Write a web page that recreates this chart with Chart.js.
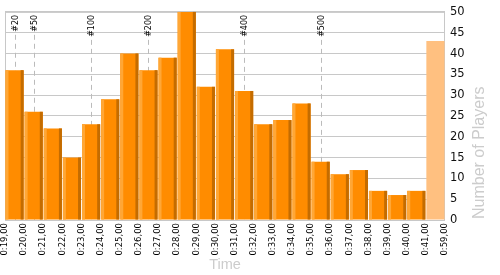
<!DOCTYPE html>
<html>
<head>
<meta charset="utf-8">
<script src="https://cdn.jsdelivr.net/npm/chart.js@4/dist/chart.umd.min.js"></script>
<style>
  body { margin: 0; background: #fff; }
</style>
</head>
<body>
<canvas id="chart" width="500" height="275"></canvas>
<script>
// time slot boundaries (bars sit between two labels)
const timeLabels = ['0:19,00', '0:20,00', '0:21,00', '0:22,00', '0:23,00', '0:24,00', '0:25,00',
  '0:26,00', '0:27,00', '0:28,00', '0:29,00', '0:30,00', '0:31,00', '0:32,00', '0:33,00',
  '0:34,00', '0:35,00', '0:36,00', '0:37,00', '0:38,00', '0:39,00', '0:40,00', '0:41,00', '0:59,00'];
// players per slot, last one is the 0:41-0:59 catch-all
const players = [36, 26, 22, 15, 23, 29, 40, 36, 39, 50, 32, 41, 31, 23, 24, 28, 14, 11, 12, 7, 6, 7, 43];
// rank markers and the slot they fall in
const markerLabels = ['#20', '#50', '#100', '#200', '#400', '#500'];
const markerSlots = [0, 1, 4, 7, 12, 16];
const yTicks = [0, 5, 10, 15, 20, 25, 30, 35, 40, 45, 50];

const ORANGE = '#ff8c00';
const LIGHT = '#ffa736';
const DARK = '#c46c00';
const REST = '#ffc080';

const lastIdx = players.length - 1;

const decor = {
  id: 'decor',
  beforeDatasetsDraw(chart) {
    const { ctx, chartArea: a, scales: { x } } = chart;
    ctx.save();
    ctx.strokeStyle = '#c8c8c8';
    ctx.lineWidth = 1;
    ctx.strokeRect(a.left + 0.5, a.top + 0.5, a.right - a.left - 1, a.bottom - a.top);

    ctx.font = '8px "DejaVu Sans"';
    markerLabels.forEach((t, i) => {
      const px = Math.round(x.getPixelForValue(markerSlots[i] + 0.5)) + 0.5;
      const w = ctx.measureText(t).width;
      ctx.strokeStyle = '#bbbbbb';
      ctx.setLineDash([5, 4]);
      ctx.beginPath();
      ctx.moveTo(px, a.top + w + 6);
      ctx.lineTo(px, a.bottom);
      ctx.stroke();
      ctx.setLineDash([]);
      ctx.save();
      ctx.translate(px, a.top + 3);
      ctx.rotate(-Math.PI / 2);
      ctx.textAlign = 'right';
      ctx.textBaseline = 'middle';
      ctx.fillStyle = '#000';
      ctx.fillText(t, 0, 0);
      ctx.restore();
    });
    ctx.restore();
  },
  afterDatasetsDraw(chart) {
    // fake 3d edges on the orange bars
    const { ctx } = chart;
    const bars = chart.getDatasetMeta(0).data;
    ctx.save();
    bars.forEach((bar, i) => {
      if (i === lastIdx) return;
      const { x, y, base, width } = bar.getProps(['x', 'y', 'base', 'width'], true);
      const left = x - width / 2;
      ctx.fillStyle = LIGHT;
      ctx.fillRect(left, y, 3, base - y);
      ctx.fillStyle = DARK;
      ctx.fillRect(left + width - 3, y, 3, base - y);
    });
    ctx.restore();
  },
  afterDraw(chart) {
    const { ctx } = chart;
    ctx.save();
    ctx.translate(480, 219);
    ctx.rotate(-Math.PI / 2);
    ctx.font = '16px "Liberation Sans"';
    ctx.fillStyle = '#cccccc';
    ctx.textAlign = 'left';
    ctx.textBaseline = 'middle';
    ctx.fillText('Number of Players', 0, 0);
    ctx.restore();
  }
};

new Chart(document.getElementById('chart'), {
  type: 'bar',
  data: {
    datasets: [{
      data: players.map((v, i) => ({ x: i + 0.5, y: v })),
      backgroundColor: ctx => ctx.dataIndex === lastIdx ? REST : ORANGE,
      borderWidth: 0,
      categoryPercentage: 1,
      barPercentage: 0.95
    }]
  },
  options: {
    responsive: false,
    animation: false,
    layout: { padding: { left: 5, top: 10, right: 0, bottom: 0 } },
    plugins: {
      legend: { display: false },
      tooltip: { enabled: false }
    },
    scales: {
      x: {
        type: 'linear',
        min: 0,
        max: timeLabels.length - 1,
        offset: false,
        grid: { display: false, offset: false, drawTicks: false },
        border: { display: false },
        ticks: {
          stepSize: 1,
          autoSkip: false,
          minRotation: 90,
          maxRotation: 90,
          padding: 3,
          color: '#000',
          font: { family: 'DejaVu Sans', size: 8.5 },
          callback: v => timeLabels[v]
        },
        title: {
          display: true,
          text: 'Time',
          color: '#cccccc',
          font: { family: 'Liberation Sans', size: 14.5 },
          padding: { top: 0, bottom: 1 }
        },
        afterFit: s => { s.height = 55; }
      },
      y: {
        position: 'right',
        min: 0,
        max: 50,
        afterBuildTicks: s => { s.ticks = yTicks.map(v => ({ value: v })); },
        grid: { color: '#c8c8c8', drawTicks: false },
        border: { display: false },
        ticks: {
          padding: 5,
          color: '#111',
          font: { family: 'DejaVu Sans', size: 11.5 }
        },
        afterFit: s => { s.width = 55; }
      }
    }
  },
  plugins: [decor]
});
</script>
</body>
</html>
